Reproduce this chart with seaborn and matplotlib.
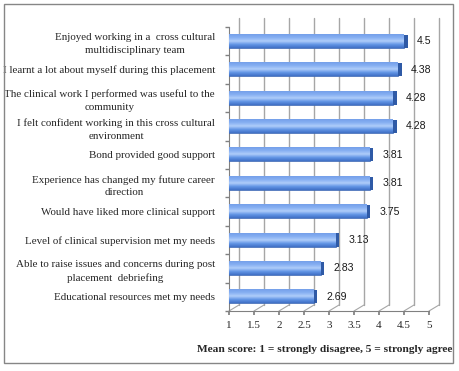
import numpy as np
import pandas as pd
import matplotlib
matplotlib.use("Agg")
import matplotlib.pyplot as plt
import matplotlib.transforms as mtransforms
from matplotlib.colors import LinearSegmentedColormap
from matplotlib.patches import Rectangle
import seaborn as sns

statements = [
    "Enjoyed working in a  cross cultural\nmultidisciplinary team",
    "I learnt a lot about myself during this placement",
    "The clinical work I performed was useful to the\ncommunity",
    "I felt confident working in this cross cultural\nenvironment",
    "Bond provided good support",
    "Experience has changed my future career\ndirection",
    "Would have liked more clinical support",
    "Level of clinical supervision met my needs",
    "Able to raise issues and concerns during post\nplacement  debriefing",
    "Educational resources met my needs",
]
mean_scores = [4.5, 4.38, 4.28, 4.28, 3.81, 3.81, 3.75, 3.13, 2.83, 2.69]
score_labels = ["4.5", "4.38", "4.28", "4.28", "3.81", "3.81", "3.75", "3.13", "2.83", "2.69"]
x_ticks = [1, 1.5, 2, 2.5, 3, 3.5, 4, 4.5, 5]
x_tick_labels = ["1", "1.5", "2", "2.5", "3", "3.5", "4", "4.5", "5"]

df = pd.DataFrame({"statement": statements, "score": mean_scores})

sns.set_theme(style="white")
plt.rcParams["font.family"] = ["Liberation Serif", "DejaVu Serif"]

fig = plt.figure(figsize=(4.6, 3.71), dpi=100)
ax = fig.add_axes([229 / 460, 1 - 311 / 371, 200 / 460, 284 / 371])

# outer frame
fig.patches.append(Rectangle((4 / 460, 1 - 363 / 371), 449 / 460, 359 / 371,
                             transform=fig.transFigure, fill=False,
                             edgecolor="#868686", lw=1.0))

sns.barplot(data=df, x="score", y="statement", orient="h", ax=ax,
            width=0.46, color="#4f81d8", edgecolor="#3a66b5", linewidth=0.5,
            zorder=3)
ax.set_xlim(1, 5)
ax.set_ylim(9.5, -0.5)
fig.canvas.draw()

# back-wall gridlines (pseudo 3D offset)
off = mtransforms.ScaledTranslation(10 / 100, 6 / 100, fig.dpi_scale_trans)
for xv in x_ticks:
    ax.plot([xv, xv], [9.5, -0.6], color="#a6a6a6", lw=1.0,
            transform=ax.transData + off, clip_on=False, zorder=1)
    px, py = ax.transData.transform((xv, 9.5))
    ax.plot([px / 100, px / 100 + 0.10], [py / 100, py / 100 + 0.06],
            color="#a6a6a6", lw=0.8, transform=fig.dpi_scale_trans,
            clip_on=False, zorder=1)

# gradient fill on bars
cmap = LinearSegmentedColormap.from_list(
    "bar", ["#3f70c6", "#6295e6", "#afcdfa", "#86aff2", "#74a0ea"])
grad = np.linspace(0, 1, 64).reshape(-1, 1)
for patch in list(ax.patches):
    x0, y0 = patch.get_x(), patch.get_y()
    w, h = patch.get_width(), patch.get_height()
    left = max(x0, 1.0)
    patch.set_x(left)
    patch.set_width(x0 + w - left)
    im = ax.imshow(grad, cmap=cmap, aspect="auto", origin="lower",
                   extent=[left + 0.01, x0 + w, y0 + h, y0], zorder=3.5)
    side = Rectangle((x0 + w, y0), 0.07, h, facecolor="#2f5aa6",
                     edgecolor="none", zorder=3.4)
    ax.add_patch(side)

for i, (v, lab) in enumerate(zip(mean_scores, score_labels)):
    ax.text(v + 0.26, i, lab, va="center", ha="left", fontsize=7.6,
            family=["Liberation Sans", "DejaVu Sans"], color="#1a1a1a")

ax.set_xticks(x_ticks)
ax.set_xticklabels(x_tick_labels, fontsize=8)
ax.set_yticks(range(len(statements)))
ax.set_yticklabels(statements, fontsize=7.9, multialignment="center")
for t in ax.get_yticklabels():
    t.set_linespacing(1.55)
ax.set_yticks(np.arange(-0.5, 10, 1), minor=True)
ax.tick_params(axis="y", which="major", length=0, pad=10)
ax.tick_params(axis="y", which="minor", length=3, color="#808080", left=True)
ax.tick_params(axis="x", which="major", length=3, color="#808080", bottom=True, pad=4)
ax.set_ylabel("")
ax.set_xlabel("Mean score: 1 = strongly disagree, 5 = strongly agree",
              fontsize=8.2, fontweight="bold")
ax.xaxis.set_label_coords(0.48, -0.12)
for s in ["top", "right"]:
    ax.spines[s].set_visible(False)
for s in ["left", "bottom"]:
    ax.spines[s].set_color("#808080")
    ax.spines[s].set_linewidth(0.8)
ax.set_facecolor("none")
ax.grid(False)

fig.savefig("out.png", dpi=100)
